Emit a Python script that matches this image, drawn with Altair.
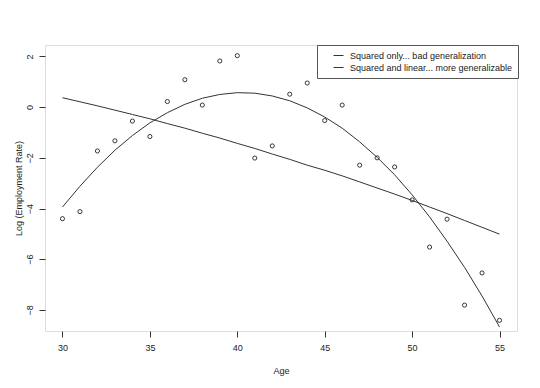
import altair as alt
import pandas as pd

ages = list(range(30, 56))
log_rate = [-4.40, -4.12, -1.73, -1.33, -0.55, -1.16, 0.22, 1.08, 0.08, 1.82,
            2.03, -2.01, -1.53, 0.51, 0.95, -0.53, 0.08, -2.29, -2.00, -2.36,
            -3.66, -5.52, -4.42, -7.81, -6.54, -8.41]
sq_only = [0.37, 0.21, 0.05, -0.12, -0.29, -0.46, -0.65, -0.83, -1.03, -1.22,
           -1.43, -1.63, -1.85, -2.06, -2.29, -2.49, -2.71, -2.95, -3.19, -3.43,
           -3.68, -3.94, -4.20, -4.47, -4.74, -5.01]
sq_lin = [-3.94, -3.12, -2.37, -1.70, -1.12, -0.62, -0.22, 0.11, 0.35, 0.50,
          0.57, 0.55, 0.44, 0.25, -0.03, -0.39, -0.83, -1.37, -1.98, -2.67,
          -3.46, -4.33, -5.29, -6.32, -7.45, -8.67]
models = ["Squared only... bad generalization", "Squared and linear... more generalizable"]
x_ticks = [30, 35, 40, 45, 50, 55]
y_ticks = [-8, -6, -4, -2, 0, 2]

FONT = "Liberation Sans"

points = pd.DataFrame({"Age": ages, "LogRate": log_rate})
curves = pd.DataFrame({
    "Age": ages + ages,
    "Fit": sq_only + sq_lin,
    "Model": [models[0]] * len(ages) + [models[1]] * len(ages),
})

xs = alt.Scale(domain=[29, 56], nice=False, zero=False)
ys = alt.Scale(domain=[-8.83, 2.45], nice=False, zero=False)

x_axis = alt.Axis(values=x_ticks, title="Age", grid=False, domain=False,
                  tickColor="#333", tickSize=6, labelPadding=6,
                  labelFontSize=9, labelFont=FONT, labelColor="#222",
                  titleFontSize=9, titleFont=FONT, titleFontWeight="normal",
                  titleColor="#222", titlePadding=14)
y_axis = alt.Axis(values=y_ticks, title="Log (Employment Rate)", grid=False,
                  domain=False, tickColor="#333", tickSize=6, labelAngle=270,
                  labelAlign="center", labelBaseline="bottom", labelPadding=5,
                  labelFontSize=9, labelFont=FONT, labelColor="#222",
                  titleFontSize=9, titleFont=FONT, titleFontWeight="normal",
                  titleColor="#222", titleX=-22)

pts = alt.Chart(points).mark_point(shape="circle", filled=False, size=17,
                                   strokeWidth=0.9, color="#222", opacity=1).encode(
    x=alt.X("Age:Q", scale=xs, axis=x_axis),
    y=alt.Y("LogRate:Q", scale=ys, axis=y_axis),
)

lines = alt.Chart(curves).mark_line(strokeWidth=1).encode(
    x=alt.X("Age:Q", scale=xs),
    y=alt.Y("Fit:Q", scale=ys),
    color=alt.Color("Model:N", scale=alt.Scale(domain=models, range=["#333", "#333"]),
                    legend=alt.Legend(title=None, orient="none", legendX=272, legendY=0,
                                      strokeColor="#555", fillColor="white", padding=5,
                                      symbolType="stroke", symbolSize=100,
                                      symbolStrokeWidth=1, symbolOffset=11,
                                      labelOffset=6, labelFontSize=9, labelFont=FONT,
                                      labelColor="#222", rowPadding=1, labelLimit=400)),
    detail="Model:N",
)

chart = alt.layer(pts, lines).properties(
    width=472, height=286,
    autosize="none",
    padding={"left": 37, "top": 37, "right": 15, "bottom": 50},
).configure_view(stroke="#333", strokeWidth=1).configure(background="white")

chart.save("out.html", embed_options={"renderer": "svg", "actions": False})
